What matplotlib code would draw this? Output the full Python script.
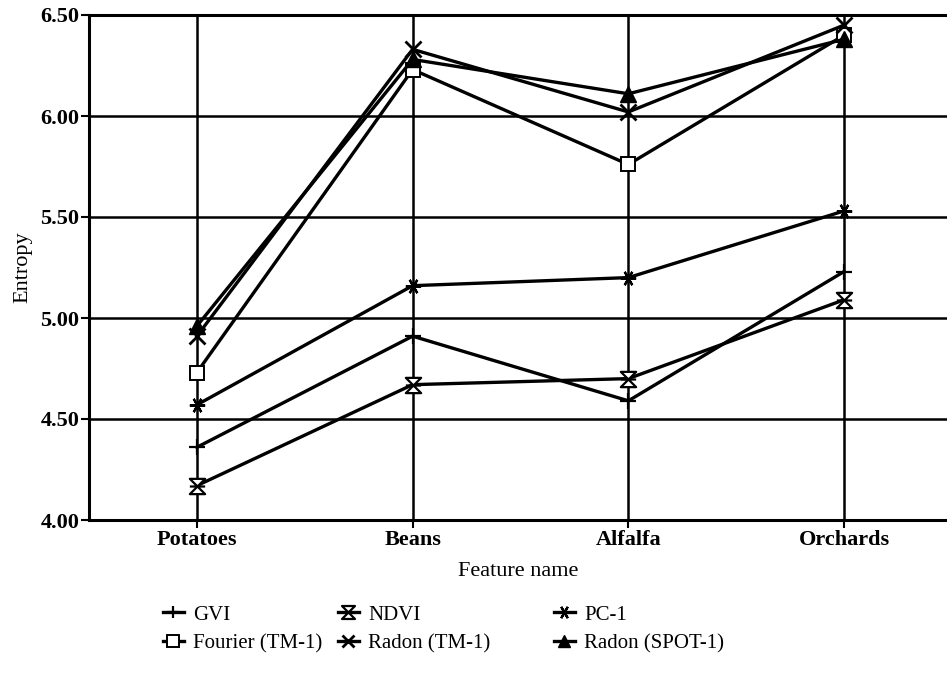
import numpy as np
import matplotlib.pyplot as plt
from matplotlib.path import Path

plt.rcParams['font.family'] = ['Liberation Serif', 'DejaVu Serif']

features = ["Potatoes", "Beans", "Alfalfa", "Orchards"]

gvi = [4.36, 4.91, 4.59, 5.23]
ndvi = [4.17, 4.67, 4.70, 5.09]
pc1 = [4.57, 5.16, 5.20, 5.53]
fourier_tm1 = [4.73, 6.23, 5.76, 6.40]
radon_tm1 = [4.91, 6.33, 6.02, 6.45]
radon_spot1 = [4.96, 6.28, 6.11, 6.38]

yticks = [4.0, 4.5, 5.0, 5.5, 6.0, 6.5]

# hourglass marker for NDVI
hourglass = Path([(-1, 1), (1, 1), (-1, -1), (1, -1), (-1, 1), (-1, 0), (1, 0)],
                 [Path.MOVETO, Path.LINETO, Path.LINETO, Path.LINETO, Path.CLOSEPOLY,
                  Path.MOVETO, Path.LINETO])

fig = plt.figure(figsize=(9.47, 6.73), dpi=100)
ax = fig.add_axes([89 / 947, 1 - 520 / 673, 1 - 89 / 947, 505 / 673])

x = np.arange(len(features))
kw = dict(color="black", lw=2.4, clip_on=False)

h_gvi, = ax.plot(x, gvi, marker="+", ms=11, mew=1.6, label="GVI", **kw)
h_ndvi, = ax.plot(x, ndvi, marker=hourglass, ms=11, mfc="white", mew=1.6, label="NDVI", **kw)
h_pc1, = ax.plot(x, pc1, marker=(6, 2, 90), ms=11, mew=1.6, label="PC-1", **kw)
h_four, = ax.plot(x, fourier_tm1, marker="s", ms=10, mfc="white", mew=1.4,
                  label="Fourier (TM-1)", **kw)
h_rtm, = ax.plot(x, radon_tm1, marker="x", ms=11, mew=2.0, label="Radon (TM-1)", **kw)
h_spot, = ax.plot(x, radon_spot1, marker="^", ms=11, mfc="black", mew=1.0,
                  label="Radon (SPOT-1)", **kw)

ax.set_xlim(-0.5, (947 - 197) / 215.7)
ax.set_ylim(4.0, 6.5)
ax.set_xticks(x)
ax.set_xticklabels(features, fontweight="bold", fontsize=16)
ax.set_yticks(yticks)
ax.set_yticklabels([f"{v:.2f}" for v in yticks], fontweight="bold", fontsize=16)
ax.tick_params(direction="out", length=6, width=1.5, pad=1)

ax.grid(True, color="black", lw=1.8)
ax.set_axisbelow(True)
for s in ["left", "bottom", "top"]:
    ax.spines[s].set_linewidth(2.2)
ax.spines["right"].set_visible(False)

ax.set_ylabel("Entropy", fontsize=16, labelpad=6)
ax.set_xlabel("Feature name", fontsize=16, labelpad=9)

# legend: three columns placed separately
cols = [([h_gvi, h_four], 163), ([h_ndvi, h_rtm], 338), ([h_pc1, h_spot], 554)]
for hs, xpix in cols:
    fig.legend(handles=hs, labels=[h.get_label() for h in hs],
               loc="upper left", bbox_to_anchor=(xpix / 947, 1 - 605 / 673),
               frameon=False, fontsize=15, handlelength=1.0, handletextpad=0.45,
               labelspacing=0.45, markerscale=0.85, borderpad=0, borderaxespad=0)

fig.savefig("out.png", dpi=100)
